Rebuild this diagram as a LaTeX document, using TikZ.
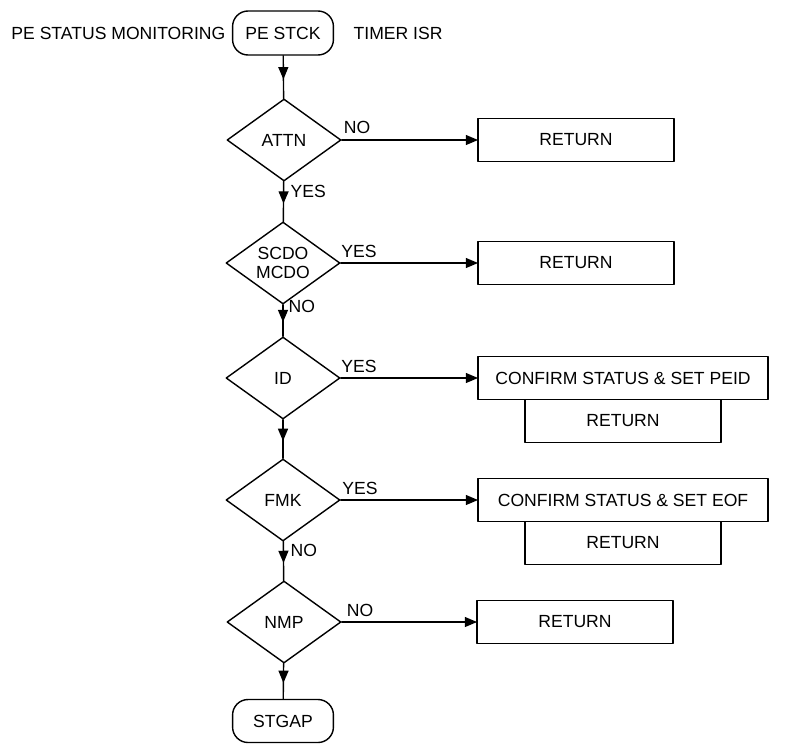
\documentclass[tikz,border=0pt]{standalone}
\usepackage{fontspec}
\setmainfont{Liberation Sans}
\usetikzlibrary{arrows,shapes.geometric,positioning,decorations.markings}

\begin{document}
\begin{tikzpicture}[line cap=round,line join=round,>=triangle 45,x=0.025cm,y=-0.025cm,
  font=\fontsize{12.5}{13}\selectfont,
  every node/.style={inner sep=1pt},
  term/.style={draw,line width=1pt,rectangle,rounded corners=11pt,minimum width=2.52cm,minimum height=1.1cm},
  test/.style={draw,line width=1pt,diamond,aspect=1.4,inner sep=0pt,minimum width=2.85cm,minimum height=2.05cm,align=center},
  ret/.style={draw,line width=1pt,rectangle,outer sep=0pt,minimum width=4.9cm,minimum height=1.075cm},
  conf/.style={ret,minimum width=7.25cm},
  flow/.style={line width=1pt,decoration={markings,mark=at position 0.55 with {\arrow{>}}},postaction={decorate}},
  jump/.style={line width=1pt,->}]
\useasboundingbox (0,0) rectangle (786,744);
\node [term] (stck) at (283,33) {PE STCK};
\node [anchor=east] (title) at (227,33) {PE STATUS MONITORING};
\node [anchor=west] (isr) at (352,33) {TIMER ISR};
\node [test] (attn) at (284,140) {ATTN};
\node [ret] (retA) at (576,140) {RETURN};
\node [test] (scdo) at (283,263) {SCDO\\MCDO};
\node [ret] (retB) at (576,263) {RETURN};
\node [test] (id) at (283,378) {ID};
\node [conf] (confA) at (623,378) {CONFIRM STATUS \& SET PEID};
\node [ret,below=0pt of confA] (retC) {RETURN};
\node [test] (fmk) at (283,500) {FMK};
\node [conf] (confB) at (623,500) {CONFIRM STATUS \& SET EOF};
\node [ret,below=0pt of confB] (retD) {RETURN};
\node [test] (nmp) at (284,622) {NMP};
\node [ret] (retE) at (575,622) {RETURN};
\node [term,minimum height=1.075cm] (stgap) at (283,721) {STGAP};
\node (noA) at (357,127) {NO};
\node [anchor=west] (yesA) at (289,191) {YES};
\node (yesB) at (359,251) {YES};
\node [anchor=west] (noB) at (287,306) {NO};
\node (yesC) at (359,366) {YES};
\node (yesD) at (360,488) {YES};
\node [anchor=west] (noC) at (289,550) {NO};
\node (noD) at (360,610) {NO};
\draw [flow] (stck) -- (attn);
\draw [flow] (attn) -- (scdo);
\draw [flow] (scdo) -- (id);
\draw [flow] (id) -- (fmk);
\draw [flow] (fmk) -- (nmp);
\draw [flow] (nmp) -- (stgap);
\draw [jump] (attn.east) -- (retA.west);
\draw [jump] (scdo.east) -- (retB.west);
\draw [jump] (id.east) -- (confA.west);
\draw [jump] (fmk.east) -- (confB.west);
\draw [jump] (nmp.east) -- (retE.west);
\end{tikzpicture}
\end{document}
